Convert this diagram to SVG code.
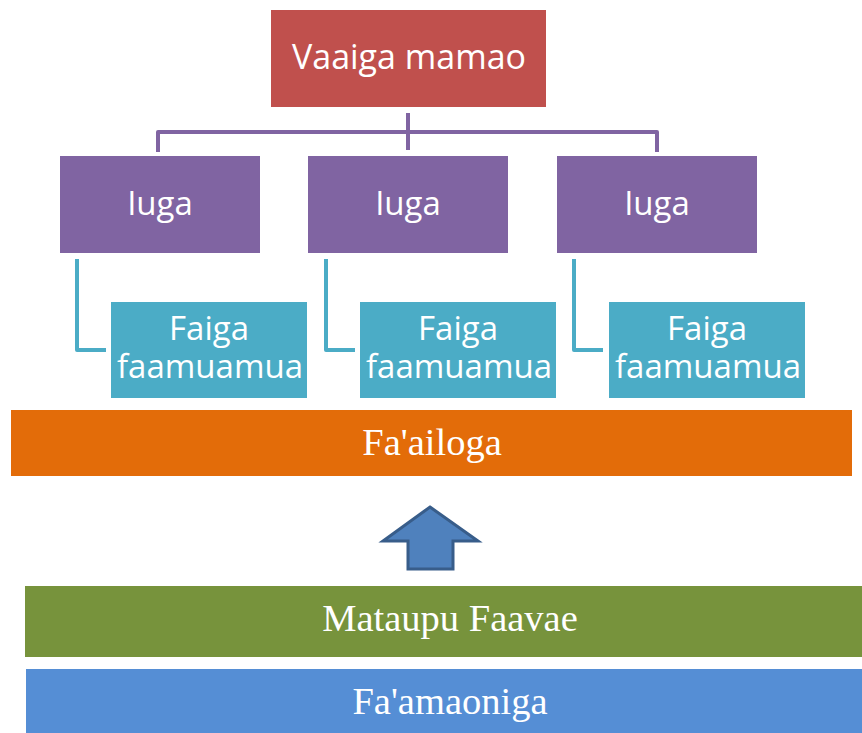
<svg xmlns="http://www.w3.org/2000/svg" width="862" height="733" viewBox="0 0 862 733">
<style>
.sans{font-family:"Open Sans","Noto Sans","Liberation Sans",sans-serif;fill:#fff;text-anchor:middle}
.serif{font-family:"Liberation Serif","DejaVu Serif",serif;fill:#fff;text-anchor:middle;font-size:38.5px}
.pur{fill:#8064A2}
.teal{fill:#4BACC6}
.pl{fill:none;stroke:#8064A2;stroke-width:4;stroke-linejoin:round}
.tl{fill:none;stroke:#4BACC6;stroke-width:4;stroke-linejoin:round}
</style>
<rect width="862" height="733" fill="#fff"/>
<g id="connectors">
<path class="pl" d="M158 152 V132 H657 V152"/>
<path class="pl" d="M408 113 V150"/>
<path class="tl" d="M77 259 V350 H106"/>
<path class="tl" d="M326 259 V350 H355"/>
<path class="tl" d="M574 259 V350 H603"/>
</g>
<g id="vaaiga">
<rect x="271" y="10" width="275" height="97" fill="#C0504D"/>
<text class="sans" x="409" y="69" font-size="34">Vaaiga mamao</text>
</g>
<g id="iuga1"><rect class="pur" x="60" y="156" width="200" height="97"/><text class="sans" x="160" y="215" font-size="33">Iuga</text></g>
<g id="iuga2"><rect class="pur" x="308" y="156" width="200" height="97"/><text class="sans" x="408" y="215" font-size="33">Iuga</text></g>
<g id="iuga3"><rect class="pur" x="557" y="156" width="200" height="97"/><text class="sans" x="657" y="215" font-size="33">Iuga</text></g>
<g id="faiga1"><rect class="teal" x="111" y="302" width="196" height="96"/><text class="sans" font-size="33"><tspan x="209" y="340">Faiga</tspan><tspan x="210" y="378">faamuamua</tspan></text></g>
<g id="faiga2"><rect class="teal" x="360" y="302" width="196" height="96"/><text class="sans" font-size="33"><tspan x="458" y="340">Faiga</tspan><tspan x="459" y="378">faamuamua</tspan></text></g>
<g id="faiga3"><rect class="teal" x="609" y="302" width="196" height="96"/><text class="sans" font-size="33"><tspan x="707" y="340">Faiga</tspan><tspan x="708" y="378">faamuamua</tspan></text></g>
<g id="failoga"><rect x="11" y="410" width="841" height="66" fill="#E36C09"/><text class="serif" x="432" y="455">Fa'ailoga</text></g>
<g id="arrow"><path d="M430 507 L478 541 H453 V569 H408 V541 H383 Z" fill="#4F81BD" stroke="#385D8A" stroke-width="3"/></g>
<g id="mataupu"><rect x="25" y="586" width="837" height="71" fill="#77933C"/><text class="serif" x="450" y="631">Mataupu Faavae</text></g>
<g id="faamaoniga"><rect x="26" y="669" width="836" height="64" fill="#558ED5"/><text class="serif" x="450" y="714">Fa'amaoniga</text></g>
</svg>
